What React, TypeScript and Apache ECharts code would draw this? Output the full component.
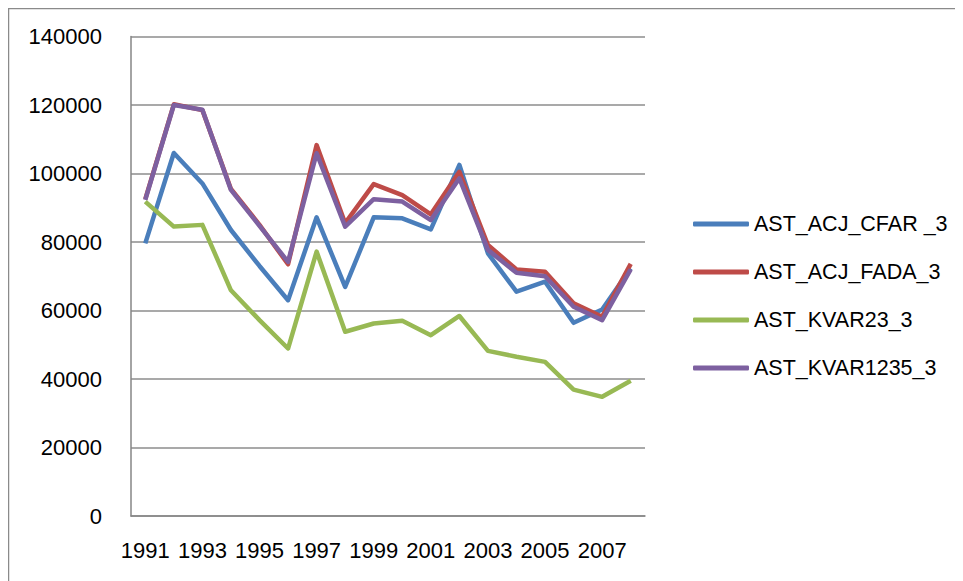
import React, { useEffect, useRef } from "react";
import * as echarts from "echarts";

const years = ["1991","1992","1993","1994","1995","1996","1997","1998","1999","2000","2001","2002","2003","2004","2005","2006","2007","2008"];
const cfar = [79600,106000,97100,83500,73000,63000,87200,66900,87200,86900,83700,102500,76700,65500,68400,56400,60300,72300];
const fada = [92500,120200,118500,95500,85000,73500,108300,85500,96900,93700,88100,100500,79100,72000,71300,62100,58200,73600];
const kvar23 = [91800,84500,85000,65900,57200,48900,77200,53800,56200,57000,52800,58400,48200,46500,45000,36900,34800,39500];
const kvar1235 = [92300,120000,118600,95200,84700,74200,105900,84500,92500,91800,86400,98600,77700,71000,70000,61100,57200,72000];
const seriesNames = ["AST_ACJ_CFAR _3", "AST_ACJ_FADA_3", "AST_KVAR23_3", "AST_KVAR1235_3"];
const colors = ["#4A7EBB", "#BE4B48", "#98B954", "#7D60A0"];

export default function App() {
  const ref = useRef<HTMLDivElement>(null);
  useEffect(() => {
    if (!ref.current) return;
    const chart = echarts.init(ref.current, null, { renderer: "svg" });
    const font = "'Liberation Sans', Arial, sans-serif";
    const data = [cfar, fada, kvar23, kvar1235];
    chart.setOption({
      animation: false,
      backgroundColor: "#ffffff",
      grid: { left: 123, right: 318, top: 28.5, bottom: 65, containLabel: false },
      graphic: [
        {
          type: "rect",
          shape: { x: 0.5, y: 0.5, width: 2000, height: 2000 },
          style: { fill: "none", stroke: "#8a8a8a", lineWidth: 1.5 },
          silent: true,
        },
      ],
      legend: {
        orient: "vertical",
        left: 680,
        top: 200,
        itemWidth: 56,
        itemHeight: 5,
        itemGap: 26,
        icon: "roundRect",
        textStyle: { fontFamily: font, fontSize: 21.5, color: "#000" },
        data: seriesNames,
      },
      xAxis: {
        type: "category",
        data: years,
        boundaryGap: true,
        axisLine: { lineStyle: { color: "#868686", width: 1.5 } },
        axisTick: { show: false },
        axisLabel: { interval: 1, margin: 23, fontFamily: font, fontSize: 22, color: "#000" },
        splitLine: { show: false },
      },
      yAxis: {
        type: "value",
        min: 0,
        max: 140000,
        interval: 20000,
        axisLine: { show: true, lineStyle: { color: "#868686", width: 1.5 } },
        axisTick: { show: false },
        axisLabel: {
          margin: 29,
          fontFamily: font,
          fontSize: 22,
          color: "#000",
          formatter: (v: number) => String(v),
        },
        splitLine: { lineStyle: { color: "#8c8c8c", width: 1.5 } },
      },
      series: seriesNames.map((name, i) => ({
        name,
        type: "line",
        data: data[i],
        symbol: "none",
        showSymbol: false,
        color: colors[i],
        lineStyle: { width: 4.5, color: colors[i], join: "round" },
        z: 2 + i,
      })),
    });
    return () => chart.dispose();
  }, []);
  return <div ref={ref} style={{ width: 955, height: 573 }} />;
}
